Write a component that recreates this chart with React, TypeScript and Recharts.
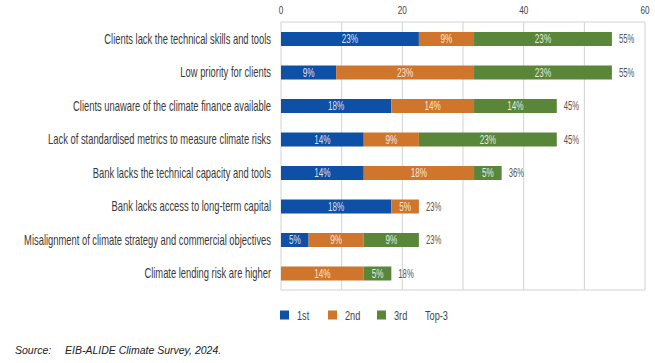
import React from "react";
import {
  BarChart,
  Bar,
  XAxis,
  YAxis,
  CartesianGrid,
  Legend,
  LabelList,
} from "recharts";

const categories = [
  "Clients lack the technical skills and tools",
  "Low priority for clients",
  "Clients unaware of the climate finance available",
  "Lack of standardised metrics to measure climate risks",
  "Bank lacks the technical capacity and tools",
  "Bank lacks access to long-term capital",
  "Misalignment of climate strategy and commercial objectives",
  "Climate lending risk are higher",
];

const first = [22.73, 9.09, 18.18, 13.64, 13.64, 18.18, 4.55, 0];
const second = [9.09, 22.73, 13.64, 9.09, 18.18, 4.55, 9.09, 13.64];
const third = [22.73, 22.73, 13.64, 22.73, 4.55, 0, 9.09, 4.55];

const xTicks = [0, 10, 20, 30, 40, 50, 60];
const xTickLabels = [0, 20, 40, 60];

const seriesNames = ["1st", "2nd", "3rd", "Top-3"];
const COLORS = ["#0d50a5", "#d0762c", "#5a863a"];

// "anchor" is a near-zero invisible segment that only carries the Top-3 label
const data = categories.map((name, i) => ({
  name,
  first: first[i],
  second: second[i],
  third: third[i],
  anchor: 0.001,
  total: first[i] + second[i] + third[i],
}));

const FONT = "'Liberation Sans', Arial, sans-serif";
const PLOT_TOP = 22;
const PLOT_BOTTOM = 290;

function SqueezedText({ x, y, anchor, size, fill, sx = 0.68, children }: any) {
  return (
    <text
      transform={`translate(${x},${y}) scale(${sx},1)`}
      x={0}
      y={0}
      textAnchor={anchor}
      fontFamily={FONT}
      fontSize={size}
      fill={fill}
    >
      {children}
    </text>
  );
}

const XTick = (props: any) => {
  const { x, payload } = props;
  if (!xTickLabels.includes(payload.value)) return <g />;
  return (
    <SqueezedText x={x} y={13.5} anchor="middle" size={11} sx={0.74} fill="#444">
      {payload.value}
    </SqueezedText>
  );
};

const YTick = (props: any) => {
  const { x, y, payload } = props;
  return (
    <SqueezedText x={x - 2} y={y + 5} anchor="end" size={14} sx={0.67} fill="#3a3a3a">
      {payload.value}
    </SqueezedText>
  );
};

const InnerLabel = (props: any) => {
  const { x, y, width, height, value } = props;
  if (!value) return null;
  return (
    <SqueezedText
      x={x + width / 2}
      y={y + height / 2 + 4.2}
      anchor="middle"
      size={12}
      fill="rgba(255,255,255,0.85)"
    >
      {`${Math.round(value)}%`}
    </SqueezedText>
  );
};

const TotalLabel = (props: any) => {
  const { x, y, height, value } = props;
  return (
    <SqueezedText x={x + 7} y={y + height / 2 + 4.2} anchor="start" size={12} sx={0.64} fill="#555">
      {`${Math.round(value)}%`}
    </SqueezedText>
  );
};

const renderLegend = () => {
  const squareX = [280, 328, 377];
  const textX = [297, 345, 394, 425];
  return (
    <svg width={655} height={20}>
      {squareX.map((sx, i) => (
        <rect key={i} x={sx} y={5.5} width={9} height={9} fill={COLORS[i]} />
      ))}
      {textX.map((tx, i) => (
        <SqueezedText key={i} x={tx} y={14.8} anchor="start" size={13.5} fill="#444">
          {seriesNames[i]}
        </SqueezedText>
      ))}
    </svg>
  );
};

export default function App() {
  return (
    <div style={{ position: "absolute", left: 0, top: 0, width: 655, height: 363, background: "#fff" }}>
      <BarChart
        width={655}
        height={363}
        data={data}
        layout="vertical"
        margin={{ top: 0, right: 10, left: 0, bottom: 363 - PLOT_BOTTOM }}
        barSize={14}
      >
        <CartesianGrid stroke="#d2d2d2" horizontalPoints={[PLOT_TOP, PLOT_BOTTOM]} />
        <XAxis
          type="number"
          orientation="top"
          domain={[0, 60]}
          ticks={xTicks}
          height={PLOT_TOP}
          axisLine={false}
          tickLine={false}
          tick={<XTick />}
          interval={0}
          allowDataOverflow
        />
        <YAxis
          type="category"
          dataKey="name"
          width={281}
          axisLine={false}
          tickLine={false}
          tick={<YTick />}
          interval={0}
        />
        <Legend
          layout="horizontal"
          verticalAlign="middle"
          align="center"
          wrapperStyle={{ top: 305, left: 0, width: 655, height: 20 }}
          content={renderLegend}
        />
        <Bar dataKey="first" name="1st" stackId="a" fill={COLORS[0]} isAnimationActive={false}>
          <LabelList dataKey="first" content={<InnerLabel />} />
        </Bar>
        <Bar dataKey="second" name="2nd" stackId="a" fill={COLORS[1]} isAnimationActive={false}>
          <LabelList dataKey="second" content={<InnerLabel />} />
        </Bar>
        <Bar dataKey="third" name="3rd" stackId="a" fill={COLORS[2]} isAnimationActive={false}>
          <LabelList dataKey="third" content={<InnerLabel />} />
        </Bar>
        <Bar
          dataKey="anchor"
          name="Top-3"
          stackId="a"
          fill="transparent"
          legendType="none"
          isAnimationActive={false}
        >
          <LabelList dataKey="total" content={<TotalLabel />} />
        </Bar>
      </BarChart>
      <div
        style={{
          position: "absolute",
          left: 15,
          top: 344,
          fontFamily: FONT,
          fontStyle: "italic",
          fontSize: 10.5,
          color: "#222",
          whiteSpace: "nowrap",
        }}
      >
        <span style={{ display: "inline-block", width: 50 }}>Source:</span>
        EIB-ALIDE Climate Survey, 2024.
      </div>
    </div>
  );
}
